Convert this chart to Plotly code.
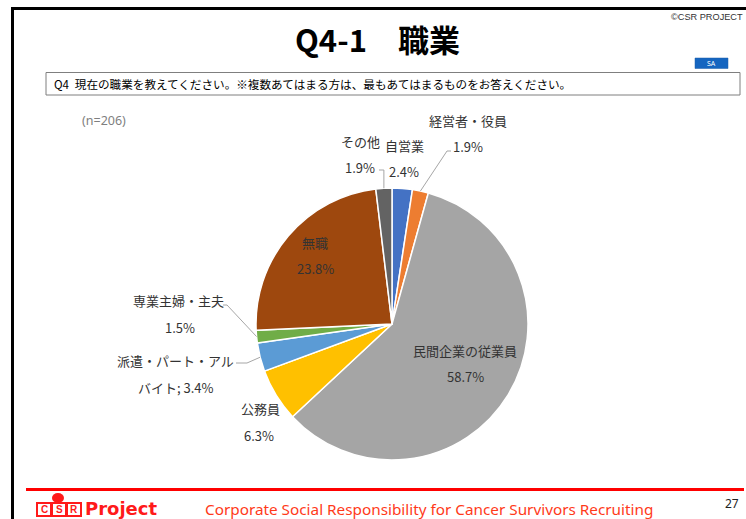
import math
import plotly.graph_objects as go

# ---- data ----
categories = ["自営業", "経営者・役員", "民間企業の従業員", "公務員",
              "派遣・パート・アルバイト", "専業主婦・主夫", "無職", "その他"]
values = [2.4, 1.9, 58.7, 6.3, 3.4, 1.5, 23.8, 1.9]
colors = ["#4472C4", "#ED7D31", "#A5A5A5", "#FFC000",
          "#5B9BD5", "#70AD47", "#9E480E", "#636363"]
n_total = 206

W, H = 746, 519
# pie geometry (pixels)
CX, CY, R = 392, 324, 136


def px(x):
    return x / W


def py(y):
    return 1 - y / H


fig = go.Figure()
fig.add_trace(go.Pie(
    labels=categories, values=values, sort=False, direction="clockwise",
    rotation=0, textinfo="none", hoverinfo="label+percent",
    marker=dict(colors=colors, line=dict(color="white", width=1.5)),
    domain=dict(x=[px(CX - R), px(CX + R)], y=[py(CY + R), py(CY - R)]),
    showlegend=False,
))

total = sum(values)


def edge_point(i):
    cum = sum(values[:i]) + values[i] / 2
    th = math.radians(cum / total * 360)
    return CX + R * math.sin(th), CY - R * math.cos(th)


shapes = []
annotations = []

LABEL_FONT = dict(family="Noto Sans CJK JP", size=13, color="#333333")

# label layout: (index, name text, name pos, value text, value pos)
label_specs = [
    (0, "自営業", (404, 145), "2.4%", (404, 171)),
    (1, "経営者・役員", (468, 120), "1.9%", (468, 146)),
    (2, "民間企業の従業員", (465, 350), "58.7%", (465, 376)),
    (3, "公務員", (260, 408), "6.3%", (259, 435)),
    (4, "派遣・パート・アル", (175, 360), "バイト; 3.4%", (176, 387)),
    (5, "専業主婦・主夫", (178, 300), "1.5%", (180, 327)),
    (6, "無職", (315, 242), "23.8%", (315, 268)),
    (7, "その他", (360, 141), "1.9%", (360, 167)),
]
for i, name, npos, val, vpos in label_specs:
    annotations.append(dict(x=px(npos[0]), y=py(npos[1]), xref="paper", yref="paper",
                            text=name, showarrow=False, font=LABEL_FONT,
                            xanchor="center", yanchor="middle"))
    annotations.append(dict(x=px(vpos[0]), y=py(vpos[1]), xref="paper", yref="paper",
                            text=val, showarrow=False, font=LABEL_FONT,
                            xanchor="center", yanchor="middle"))

# leader lines: label anchor -> elbow -> slice edge (edge from data)
leaders = {
    1: [(451, 151), (447, 151)],
    7: [(379, 170), (edge_point(7)[0], 170)],
    5: [(223, 305), (227, 305)],
    4: [(236, 363), (247, 363)],
}
for i, pts in leaders.items():
    ex, ey = edge_point(i)
    allp = pts + [(ex, ey)]
    path = "M " + " L ".join(f"{px(x)},{py(y)}" for x, y in allp)
    shapes.append(dict(type="path", xref="paper", yref="paper", path=path,
                       line=dict(color="#A6A6A6", width=1)))

# frame lines
shapes.append(dict(type="line", xref="paper", yref="paper", x0=px(11), x1=px(W), y0=py(8.5), y1=py(8.5),
                   line=dict(color="black", width=3)))
shapes.append(dict(type="line", xref="paper", yref="paper", x0=px(12.5), x1=px(12.5), y0=py(7), y1=py(H),
                   line=dict(color="black", width=3)))
# question box
shapes.append(dict(type="rect", xref="paper", yref="paper", x0=px(46), x1=px(740), y0=py(95), y1=py(72.5),
                   line=dict(color="#7F7F7F", width=1), fillcolor="white"))
# SA badge
shapes.append(dict(type="rect", xref="paper", yref="paper", x0=px(695), x1=px(728), y0=py(68.5), y1=py(58),
                   line=dict(color="#1F5FA8", width=0.5), fillcolor="#1565C0"))
# footer red line
shapes.append(dict(type="line", xref="paper", yref="paper", x0=px(26), x1=px(744), y0=py(489.5), y1=py(489.5),
                   line=dict(color="#FF0000", width=3)))
# logo boxes
for bx in (37, 52, 67):
    shapes.append(dict(type="rect", xref="paper", yref="paper", x0=px(bx), x1=px(bx + 14), y0=py(516), y1=py(503),
                       line=dict(color="#FF1A1A", width=2), fillcolor="white"))
shapes.append(dict(type="circle", xref="paper", yref="paper", x0=px(52), x1=px(64), y0=py(503), y1=py(493),
                   line=dict(color="#FF1A1A", width=0), fillcolor="#FF1A1A"))

# texts
annotations += [
    dict(x=px(377), y=py(38), text="<b>Q4-1\u3000職業</b>", showarrow=False,
         font=dict(family="Noto Sans CJK JP", size=31, color="black"),
         xanchor="center", yanchor="middle"),
    dict(x=px(745), y=py(17), text="©CSR PROJECT", showarrow=False,
         font=dict(family="Liberation Sans Narrow, Liberation Sans", size=9.2, color="#333333"),
         xanchor="right", yanchor="middle"),
    dict(x=px(711.5), y=py(63.5), text="SA", showarrow=False,
         font=dict(family="Noto Sans", size=7, color="white"),
         xanchor="center", yanchor="middle"),
    dict(x=px(52), y=py(84), text="Q4\u2002現在の職業を教えてください。※複数あてはまる方は、最もあてはまるものをお答えください。",
         showarrow=False, font=dict(family="Noto Sans CJK JP", size=11.6, color="black"),
         xanchor="left", yanchor="middle"),
    dict(x=px(80), y=py(120), text=f"(n={n_total})", showarrow=False,
         font=dict(family="Noto Sans", size=12.5, color="#7F7F7F"),
         xanchor="left", yanchor="middle"),
    dict(x=px(83), y=py(508.5), text="<b>Project</b>", showarrow=False,
         font=dict(family="DejaVu Sans", size=18, color="#FF1A1A"),
         xanchor="left", yanchor="middle"),
    dict(x=px(44), y=py(509.5), text="<b>C</b>", showarrow=False,
         font=dict(family="Liberation Sans", size=10, color="#FF1A1A"), xanchor="center", yanchor="middle"),
    dict(x=px(59), y=py(509.5), text="<b>S</b>", showarrow=False,
         font=dict(family="Liberation Sans", size=10, color="#FF1A1A"), xanchor="center", yanchor="middle"),
    dict(x=px(74), y=py(509.5), text="<b>R</b>", showarrow=False,
         font=dict(family="Liberation Sans", size=10, color="#FF1A1A"), xanchor="center", yanchor="middle"),
    dict(x=px(429), y=py(509), text="Corporate Social Responsibility for Cancer Survivors Recruiting",
         showarrow=False, font=dict(family="Noto Sans", size=15.3, color="#FF3A1A"),
         xanchor="center", yanchor="middle"),
    dict(x=px(732), y=py(503), text="27", showarrow=False,
         font=dict(family="Noto Sans", size=12, color="#222222"),
         xanchor="center", yanchor="middle"),
]

fig.update_layout(
    width=W, height=H, margin=dict(l=0, r=0, t=0, b=0),
    paper_bgcolor="white", plot_bgcolor="white",
    shapes=shapes, annotations=annotations, showlegend=False,
)

fig.write_html("out.html", config={"displayModeBar": False},
               post_script="document.body.style.margin='0px';document.body.style.overflow='hidden';")
